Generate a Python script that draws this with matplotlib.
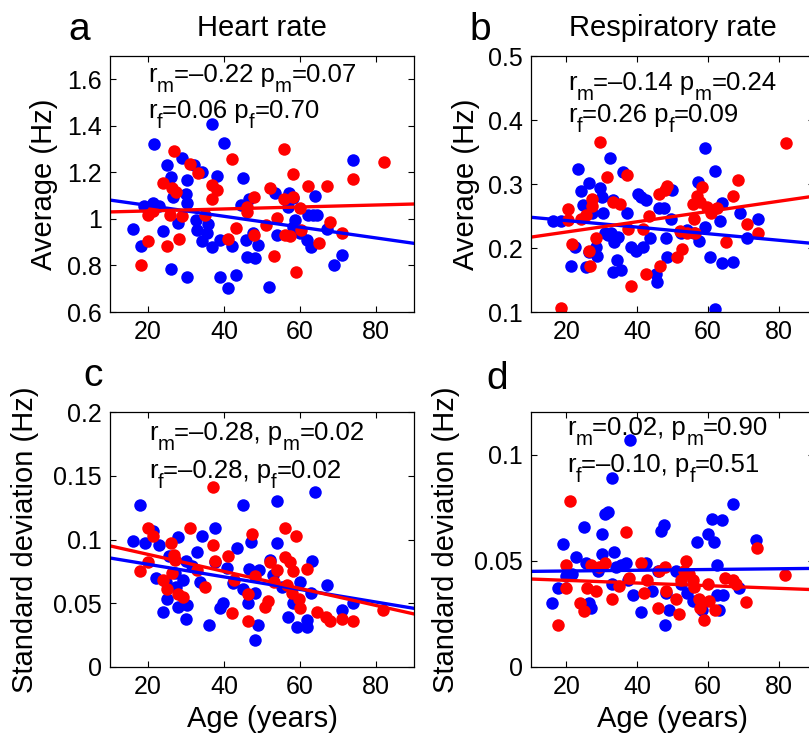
import numpy as np
import matplotlib
matplotlib.use('Agg')
import matplotlib.pyplot as plt
from matplotlib import transforms

plt.rcParams['font.family'] = ['Liberation Sans', 'DejaVu Sans']

# ---------- a: heart rate, average ----------
a_age_m = [16.0, 18.1, 21.6, 18.9, 21.4, 23.0, 24.0, 25.1, 26.0, 26.0, 26.7, 28.0, 28.9, 30.2, 30.0,
           30.2, 30.2, 32.1, 34.1, 32.6, 32.8, 34.1, 35.4, 35.9, 36.9, 38.1, 36.9, 38.9, 38.9, 40.1,
           41.1, 42.2, 43.1, 45.1, 44.6, 45.8, 46.0, 46.7, 48.2, 49.0, 47.7, 51.9, 53.5, 54.0, 57.0,
           56.9, 58.1, 58.2, 58.8, 60.0, 61.8, 62.2, 63.5, 62.9, 64.0, 64.4, 67.0, 69.0, 71.0, 74.0]
a_val_m = [0.958, 0.885, 1.32, 1.057, 1.07, 1.055, 0.949, 1.23, 1.18, 0.786, 1.095, 0.984, 1.26, 1.167, 1.107,
           1.07, 0.749, 1.231, 1.203, 0.995, 0.952, 0.906, 0.938, 0.978, 1.406, 1.184, 0.88, 0.91, 0.749, 1.327,
           0.701, 0.883, 0.757, 1.177, 1.06, 0.909, 0.838, 1.085, 0.83, 0.888, 0.938, 0.706, 1.112, 0.93, 1.112,
           1.052, 1.088, 0.966, 0.995, 0.938, 0.909, 1.016, 1.016, 0.878, 1.097, 1.016, 0.958, 0.8, 0.845, 1.253]
a_age_f = [18.1, 20.0, 20.1, 21.2, 24.0, 24.9, 25.8, 26.8, 26.2, 27.4, 28.2, 29.0, 31.1, 33.2, 35.0,
           36.9, 38.2, 36.9, 41.1, 42.0, 43.1, 46.1, 46.0, 48.0, 47.9, 51.1, 52.1, 54.0, 53.2, 55.9,
           55.8, 57.4, 56.1, 58.2, 58.2, 58.9, 60.0, 60.2, 62.2, 65.0, 67.0, 67.9, 71.0, 74.0, 82.1]
a_val_f = [0.802, 0.905, 1.017, 1.035, 1.156, 0.885, 1.017, 1.293, 1.131, 1.117, 0.912, 1.014, 1.236, 1.196, 1.017,
           1.146, 1.124, 1.084, 0.912, 1.256, 0.96, 1.052, 1.031, 1.095, 0.93, 0.972, 1.131, 1.002, 0.84, 1.3,
           1.084, 0.927, 0.93, 1.191, 1.095, 0.772, 1.045, 0.952, 1.143, 0.895, 1.14, 0.985, 0.941, 1.17, 1.246]
a_fit_m = [1.081, 0.895]
a_fit_f = [1.030, 1.064]

# ---------- b: respiratory rate, average ----------
b_age_m = [16.3, 18.4, 21.4, 22.4, 23.3, 24.2, 24.8, 25.5, 26.4, 26.4, 27.3, 28.3, 28.7, 29.4, 30.2,
           30.4, 30.8, 31.8, 32.3, 32.5, 33.2, 33.5, 34.6, 34.4, 33.3, 35.5, 36.1, 37.2, 38.2, 39.6,
           40.2, 41.0, 41.7, 42.4, 43.6, 45.2, 45.5, 46.2, 47.6, 48.2, 48.5, 49.6, 49.9, 52.3, 54.1,
           56.0, 57.3, 57.6, 59.1, 59.1, 60.5, 62.1, 63.3, 64.0, 64.0, 67.0, 69.2, 71.1, 74.1, 62.1]
b_val_m = [0.242, 0.242, 0.172, 0.201, 0.323, 0.289, 0.267, 0.170, 0.302, 0.194, 0.254, 0.202, 0.187, 0.293, 0.280,
           0.255, 0.223, 0.220, 0.340, 0.223, 0.275, 0.210, 0.217, 0.182, 0.163, 0.166, 0.318, 0.255, 0.202, 0.196,
           0.285, 0.280, 0.202, 0.275, 0.215, 0.160, 0.147, 0.262, 0.263, 0.216, 0.186, 0.245, 0.291, 0.223, 0.228,
           0.223, 0.303, 0.211, 0.356, 0.233, 0.186, 0.321, 0.242, 0.270, 0.176, 0.178, 0.255, 0.216, 0.245, 0.105]
b_age_f = [18.5, 20.6, 20.6, 21.5, 24.2, 25.5, 26.4, 26.6, 27.3, 27.3, 28.5, 29.4, 31.4, 33.3, 35.3,
           37.2, 37.4, 38.2, 41.6, 42.4, 43.3, 46.2, 46.4, 48.5, 48.0, 51.3, 52.1, 52.7, 54.1, 56.0,
           56.5, 55.8, 56.9, 58.3, 57.9, 59.8, 60.9, 62.6, 65.2, 67.1, 68.4, 71.1, 74.1, 82.1]
b_val_f = [0.107, 0.261, 0.243, 0.207, 0.246, 0.251, 0.196, 0.172, 0.276, 0.266, 0.216, 0.366, 0.311, 0.272, 0.268,
           0.314, 0.230, 0.141, 0.230, 0.160, 0.250, 0.285, 0.172, 0.297, 0.290, 0.186, 0.226, 0.198, 0.223, 0.246,
           0.223, 0.268, 0.282, 0.296, 0.272, 0.264, 0.254, 0.262, 0.210, 0.281, 0.306, 0.238, 0.223, 0.364]
b_fit_m = [0.248, 0.207]
b_fit_f = [0.217, 0.281]

# ---------- c: heart rate, standard deviation ----------
c_age_m = [16.0, 17.9, 19.2, 21.2, 23.0, 22.1, 24.0, 25.1, 24.7, 25.6, 27.1, 27.4, 28.0, 28.0, 29.1,
           30.0, 30.2, 30.0, 31.5, 32.8, 34.1, 33.7, 36.1, 37.6, 37.5, 38.9, 39.8, 40.7, 42.3, 43.3,
           44.9, 44.9, 46.4, 46.7, 47.1, 48.2, 48.2, 49.0, 49.2, 52.1, 53.0, 53.9, 54.0, 55.2, 56.9,
           58.2, 59.1, 60.0, 61.9, 61.8, 63.1, 62.8, 64.0, 67.0, 71.0, 74.0]
c_val_m = [0.099, 0.127, 0.097, 0.107, 0.096, 0.070, 0.043, 0.053, 0.067, 0.087, 0.074, 0.063, 0.102, 0.047, 0.068,
           0.083, 0.049, 0.038, 0.079, 0.090, 0.103, 0.067, 0.033, 0.109, 0.082, 0.046, 0.050, 0.078, 0.066, 0.093,
           0.127, 0.061, 0.050, 0.077, 0.098, 0.058, 0.021, 0.033, 0.076, 0.084, 0.072, 0.130, 0.097, 0.063, 0.039,
           0.050, 0.031, 0.067, 0.031, 0.037, 0.083, 0.058, 0.137, 0.064, 0.045, 0.050]
c_age_f = [17.9, 20.1, 20.1, 21.2, 23.9, 25.1, 26.0, 26.8, 27.1, 26.2, 27.9, 29.1, 31.1, 32.8, 34.9,
           37.0, 37.0, 37.6, 41.1, 42.0, 42.6, 46.2, 46.2, 47.4, 48.2, 50.8, 51.7, 52.1, 53.2, 53.9,
           56.1, 56.1, 56.5, 57.4, 57.9, 58.2, 58.9, 59.8, 60.0, 61.9, 64.6, 66.8, 67.9, 71.0, 74.0, 81.9]
c_val_f = [0.075, 0.082, 0.109, 0.103, 0.068, 0.061, 0.097, 0.088, 0.084, 0.074, 0.057, 0.055, 0.109, 0.076, 0.063,
           0.141, 0.096, 0.083, 0.087, 0.042, 0.068, 0.057, 0.036, 0.104, 0.071, 0.047, 0.052, 0.082, 0.067, 0.076,
           0.109, 0.086, 0.064, 0.082, 0.058, 0.075, 0.103, 0.053, 0.046, 0.077, 0.043, 0.039, 0.036, 0.038, 0.036, 0.045]
c_fit_m = [0.0855, 0.046]
c_fit_f = [0.095, 0.0416]

# ---------- d: respiratory rate, standard deviation ----------
d_age_m = [15.8, 17.7, 19.1, 19.8, 22.8, 21.7, 25.0, 25.5, 26.9, 26.4, 28.8, 30.0, 30.0, 31.0, 31.9,
           32.8, 32.8, 33.5, 34.0, 35.4, 36.8, 37.5, 37.9, 38.8, 41.0, 42.5, 44.3, 45.8, 46.7, 47.6,
           48.1, 48.9, 47.9, 51.1, 52.4, 54.0, 55.7, 56.8, 58.3, 59.9, 61.3, 61.8, 62.7, 63.9, 62.7,
           64.2, 63.2, 67.0, 68.7, 73.6]
d_val_m = [0.030, 0.037, 0.058, 0.043, 0.052, 0.044, 0.066, 0.049, 0.028, 0.030, 0.045, 0.0625, 0.053, 0.072, 0.073,
           0.089, 0.039, 0.054, 0.047, 0.048, 0.049, 0.041, 0.107, 0.034, 0.026, 0.049, 0.036, 0.045, 0.064, 0.067,
           0.035, 0.027, 0.020, 0.045, 0.039, 0.035, 0.031, 0.059, 0.027, 0.0625, 0.0695, 0.059, 0.048, 0.069, 0.034,
           0.034, 0.027, 0.0765, 0.037, 0.060]
d_age_f = [17.7, 20.0, 20.0, 20.9, 23.8, 25.0, 25.7, 26.9, 28.3, 29.1, 31.0, 33.0, 34.9, 36.8, 37.7,
           41.0, 41.9, 42.9, 45.9, 46.2, 47.9, 48.1, 50.9, 51.7, 52.4, 53.3, 53.8, 54.7, 55.7, 56.2,
           57.5, 57.7, 59.0, 59.9, 60.4, 61.9, 64.9, 67.0, 67.9, 70.8, 73.8, 81.8]
d_val_f = [0.020, 0.048, 0.037, 0.078, 0.030, 0.0265, 0.037, 0.048, 0.036, 0.047, 0.049, 0.032, 0.038, 0.0633, 0.042,
           0.049, 0.035, 0.041, 0.028, 0.045, 0.047, 0.036, 0.032, 0.025, 0.041, 0.045, 0.050, 0.044, 0.041, 0.0375,
           0.032, 0.028, 0.022, 0.039, 0.031, 0.027, 0.042, 0.041, 0.039, 0.0305, 0.056, 0.0434]
d_fit_m = [0.045, 0.0464]
d_fit_f = [0.0414, 0.0364]

fit_age = [10, 90]

# "_x" = one-letter subscript, drawn MATLAB-style (big and well below the baseline)
panels = [
    dict(letter='a', title='Heart rate', ylabel='Average (Hz)',
         am=a_age_m, vm=a_val_m, af=a_age_f, vf=a_val_f, fm=a_fit_m, ff=a_fit_f,
         ylim=(0.6, 1.7), yticks=[0.6, 0.8, 1.0, 1.2, 1.4, 1.6],
         ytl=['0.6', '0.8', '1', '1.2', '1.4', '1.6'],
         txt=['r_m=–0.22 p_m=0.07', 'r_f=0.06 p_f=0.70'],
         pos=[110, 56, 304, 256], txy=(0.125, 0.90, 0.758), lab=(-0.10, 1.10), ylx=-0.17),
    dict(letter='b', title='Respiratory rate', ylabel='Average (Hz)',
         am=b_age_m, vm=b_val_m, af=b_age_f, vf=b_val_f, fm=b_fit_m, ff=b_fit_f,
         ylim=(0.1, 0.5), yticks=[0.1, 0.2, 0.3, 0.4, 0.5],
         ytl=['0.1', '0.2', '0.3', '0.4', '0.5'],
         txt=['r_m=–0.14 p_m=0.24', 'r_f=0.26 p_f=0.09'],
         pos=[531, 56, 283, 256], txy=(0.13, 0.867, 0.742), lab=(-0.18, 1.10), ylx=-0.18),
    dict(letter='c', title=None, ylabel='Standard deviation (Hz)',
         am=c_age_m, vm=c_val_m, af=c_age_f, vf=c_val_f, fm=c_fit_m, ff=c_fit_f,
         ylim=(0, 0.2), yticks=[0, 0.05, 0.1, 0.15, 0.2],
         ytl=['0', '0.05', '0.1', '0.15', '0.2'],
         txt=['r_m=–0.28, p_m=0.02', 'r_f=–0.28, p_f=0.02'],
         pos=[110, 412, 304, 255], txy=(0.128, 0.89, 0.741), lab=(-0.056, 1.14), ylx=-0.235),
    dict(letter='d', title=None, ylabel='Standard deviation (Hz)',
         am=d_age_m, vm=d_val_m, af=d_age_f, vf=d_val_f, fm=d_fit_m, ff=d_fit_f,
         ylim=(0, 0.12), yticks=[0, 0.05, 0.1],
         ytl=['0', '0.05', '0.1'],
         txt=['r_m=0.02, p_m=0.90', 'r_f=–0.10, p_f=0.51'],
         pos=[531, 412, 283, 255], txy=(0.127, 0.91, 0.765), lab=(-0.12, 1.13), ylx=-0.25),
]

W, H = 809, 740
fig = plt.figure(figsize=(W / 100, H / 100), dpi=100)
renderer = fig.canvas.get_renderer()


def split_sub(s):
    parts, buf, i = [], '', 0
    while i < len(s):
        if s[i] == '_' and i + 1 < len(s):
            if buf:
                parts.append((buf, False))
                buf = ''
            parts.append((s[i + 1], True))
            i += 2
        else:
            buf += s[i]
            i += 1
    if buf:
        parts.append((buf, False))
    return parts


def sub_text(ax, x, y, s, size):
    dx = 0.0
    for piece, sub in split_sub(s):
        tr = transforms.offset_copy(ax.transAxes, fig=fig, x=dx, y=-10 if sub else 0, units='dots')
        t = ax.text(x, y, piece, transform=tr, ha='left', va='baseline',
                    fontsize=size * 0.8 if sub else size)
        dx += t.get_window_extent(renderer).width


for p in panels:
    l, t, w, h = p['pos']
    ax = fig.add_axes([l / W, (H - t - h) / H, w / W, h / H])
    ax.plot(p['am'], p['vm'], 'o', color='#0000ff', ms=9, mec='none')
    ax.plot(p['af'], p['vf'], 'o', color='#ff0000', ms=9, mec='none')
    ax.plot(fit_age, p['fm'], '-', color='#0000ff', lw=2.4)
    ax.plot(fit_age, p['ff'], '-', color='#ff0000', lw=2.4)

    ax.set_xlim(10, 90)
    ax.set_ylim(*p['ylim'])
    ax.set_xticks([20, 40, 60, 80])
    ax.set_yticks(p['yticks'])
    ax.set_yticklabels(p['ytl'])
    ax.tick_params(direction='in', top=True, right=True, length=4, width=0.8,
                   labelsize=18, pad=6)
    for s in ax.spines.values():
        s.set_linewidth(0.9)

    ax.set_ylabel(p['ylabel'], fontsize=21)
    ax.yaxis.set_label_coords(p['ylx'], 0.5)
    if p['letter'] in 'cd':
        ax.set_xlabel('Age (years)', fontsize=21, labelpad=4)
    if p['title']:
        ax.text(0.5, 1.11, p['title'], transform=ax.transAxes, ha='center', va='center', fontsize=21)
    ax.text(p['lab'][0], p['lab'][1], p['letter'], transform=ax.transAxes,
            ha='center', va='center', fontsize=28)

    tx, y1, y2 = p['txy']
    sub_text(ax, tx, y1, p['txt'][0], 18.5)
    sub_text(ax, tx, y2, p['txt'][1], 18.5)

fig.savefig('out.png', dpi=100)
